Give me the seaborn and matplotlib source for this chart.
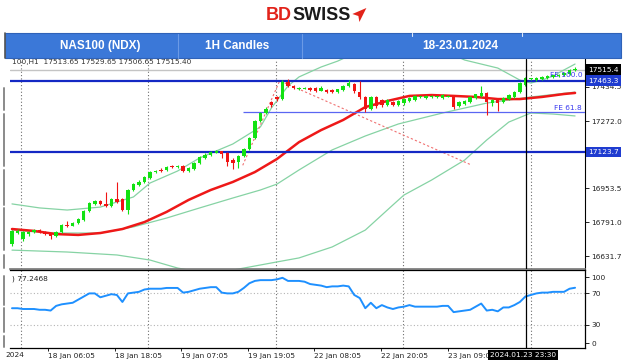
import numpy as np
import matplotlib
matplotlib.use('Agg')
import matplotlib.pyplot as plt
import seaborn as sns
from matplotlib.patches import Rectangle, Polygon
from matplotlib.lines import Line2D

# ---------------- data ----------------
opens = [16690, 16740, 16715, 16735, 16745, 16755, 16748, 16738, 16725, 16745,
         16780, 16776, 16790, 16805, 16845, 16878, 16893, 16880, 16870, 16903,
         16900, 16850, 16945, 16970, 16985, 17000, 17030, 17038, 17040, 17058,
         17052, 17058, 17035, 17045, 17075, 17098, 17110, 17122, 17128, 17118,
         17085, 17080, 17105, 17140, 17190, 17270, 17310, 17360, 17388, 17375,
         17455, 17440, 17425, 17426, 17430, 17428, 17415, 17420, 17420, 17410,
         17420, 17438, 17448, 17410, 17385, 17330, 17385, 17372, 17350, 17362,
         17348, 17355, 17365, 17372, 17385, 17380, 17386, 17385, 17380, 17388,
         17392, 17345, 17352, 17360, 17380, 17392, 17405, 17355, 17372, 17360,
         17375, 17385, 17408, 17445, 17470, 17466, 17472, 17476, 17480, 17484,
         17490, 17495, 17513.65]
highs = [16755, 16758, 16750, 16752, 16760, 16760, 16752, 16740, 16750, 16782,
         16800, 16795, 16812, 16850, 16887, 16898, 16897, 16935, 16908, 16983,
         16905, 16950, 16980, 16990, 17010, 17035, 17040, 17050, 17060, 17062,
         17062, 17062, 17052, 17080, 17105, 17118, 17130, 17133, 17132, 17125,
         17095, 17110, 17145, 17195, 17275, 17315, 17338, 17365, 17392, 17465,
         17470, 17445, 17432, 17433, 17434, 17432, 17440, 17424, 17424, 17426,
         17444, 17465, 17452, 17463, 17390, 17390, 17390, 17378, 17375, 17366,
         17370, 17380, 17386, 17396, 17392, 17397, 17393, 17392, 17400, 17395,
         17396, 17365, 17372, 17390, 17402, 17440, 17410, 17375, 17376, 17386,
         17400, 17414, 17455, 17480, 17478, 17480, 17484, 17488, 17492, 17496,
         17504, 17518, 17529.65]
lows = [16680, 16735, 16705, 16728, 16740, 16740, 16730, 16712, 16720, 16740,
        16770, 16772, 16786, 16800, 16840, 16874, 16875, 16865, 16865, 16885,
        16845, 16830, 16940, 16965, 16980, 16995, 17025, 17028, 17036, 17048,
        17048, 17030, 17030, 17040, 17070, 17094, 17105, 17118, 17095, 17060,
        17045, 17050, 17100, 17135, 17185, 17265, 17305, 17340, 17368, 17370,
        17435, 17424, 17420, 17422, 17416, 17410, 17412, 17406, 17406, 17406,
        17415, 17432, 17405, 17375, 17315, 17325, 17335, 17340, 17345, 17345,
        17343, 17350, 17360, 17367, 17380, 17376, 17382, 17381, 17376, 17384,
        17330, 17340, 17348, 17355, 17376, 17388, 17300, 17345, 17320, 17355,
        17370, 17380, 17404, 17440, 17465, 17460, 17468, 17472, 17476, 17480,
        17486, 17490, 17506.65]
closes = [16750, 16750, 16745, 16748, 16755, 16745, 16735, 16725, 16745, 16778,
          16775, 16790, 16808, 16845, 16882, 16893, 16880, 16870, 16903, 16890,
          16850, 16945, 16975, 16985, 17005, 17030, 17036, 17033, 17055, 17052,
          17058, 17035, 17048, 17075, 17100, 17112, 17125, 17128, 17115, 17080,
          17075, 17105, 17140, 17190, 17270, 17310, 17330, 17350, 17375, 17455,
          17440, 17428, 17428, 17429, 17420, 17415, 17428, 17410, 17410, 17422,
          17440, 17450, 17412, 17385, 17330, 17385, 17345, 17350, 17370, 17350,
          17365, 17375, 17382, 17392, 17387, 17392, 17389, 17388, 17395, 17391,
          17338, 17360, 17368, 17385, 17398, 17405, 17360, 17370, 17356, 17382,
          17395, 17410, 17450, 17475, 17474, 17476, 17480, 17484, 17488, 17492,
          17500, 17514, 17515.40]

ma_idx = [0, 4, 8, 12, 16, 20, 24, 28, 32, 36, 40, 44, 48, 52, 56, 60, 64, 68,
          72, 76, 80, 84, 88, 92, 96, 100, 102]
ma_val = [16760, 16751, 16736, 16732, 16741, 16760, 16793, 16841, 16898, 16945,
          16983, 17030, 17092, 17172, 17229, 17277, 17338, 17367, 17391, 17395,
          17391, 17386, 17376, 17376, 17386, 17400, 17405]

up_idx = [0, 5, 10, 16, 22, 25, 30, 34, 40, 45, 47, 50, 52, 56, 59, 61, 66, 72,
          78, 82, 88, 92, 94, 96, 98, 100, 102]
up_val = [16879, 16860, 16850, 16864, 16912, 16978, 17035, 17097, 17163, 17244,
          17334, 17438, 17481, 17528, 17556, 17580, 17609, 17632, 17609, 17561,
          17523, 17466, 17452, 17466, 17485, 17514, 17542]

mid_idx = [0, 7, 16, 22, 28, 34, 40, 45, 48, 52, 58, 64, 70, 78, 86, 94, 102]
mid_val = [16755, 16741, 16741, 16770, 16812, 16860, 16907, 16945, 16973, 17040,
           17135, 17201, 17258, 17310, 17357, 17386, 17409]

low_idx = [0, 10, 19, 25, 30, 34, 38, 42, 48, 52, 58, 64, 69, 71, 76, 82, 86, 90,
           94, 98, 102]
low_val = [16660, 16651, 16637, 16613, 16575, 16556, 16556, 16575, 16604, 16623,
           16675, 16755, 16874, 16921, 16992, 17087, 17182, 17267, 17310, 17305,
           17296]

fe_idx = [41.8, 48.5, 83.0]
fe_val = [17062, 17463, 17066]

rsi_vals = [51, 51, 50, 50, 50, 49, 49, 48, 54, 56,
            57, 58, 62, 66, 70, 70, 65, 67, 69, 68,
            59, 70, 71, 72, 75, 76, 76, 76, 77, 77,
            77, 71, 72, 74, 76, 77, 78, 78, 71, 70,
            70, 72, 77, 83, 86, 87, 87, 87, 88, 90,
            86, 86, 86, 85, 82, 81, 80, 78, 79, 79,
            80, 79, 68, 64, 51, 58, 51, 55, 52, 50,
            52, 53, 55, 53, 53, 53, 53, 53, 54, 54,
            46, 47, 48, 49, 53, 57, 48, 49, 47, 52,
            52, 55, 59, 66, 68, 70, 71, 71, 72, 72,
            72, 76, 77.2468]

price_ticks = [17434.5, 17272.0, 16953.5, 16791.0, 16631.7]
level_main = [17463.3, 17123.7]
level_fe618 = 17313.0
last_price = 17515.4
time_ticks = [6.52, 18.66, 30.6, 42.75, 54.7, 66.85, 79.0]
time_labels = ['18 Jan 06:05', '18 Jan 18:05', '19 Jan 07:05', '19 Jan 19:05',
               '22 Jan 08:05', '22 Jan 20:05', '23 Jan 09:05']
grid_x = [1.6, 24.6, 47.8, 70.9, 94.0]
cross_x = 93.1

# ---------------- style ----------------
sns.set_theme(style='white')
plt.rcParams['font.family'] = ['DejaVu Sans']

W, H = 624, 363
fig = plt.figure(figsize=(W / 100, H / 100), dpi=100)
fig.patch.set_facecolor('white')


def fx(px):
    return px / W


def fy(py):
    return 1 - py / H


GREEN = '#12e212'
RED = '#f01414'
BAND = '#86d3a4'
BLUE = '#1428c4'
FS = 5.3

ax = fig.add_axes([fx(10), fy(269), (585 - 10) / W, (269 - 59) / H])
rsi = fig.add_axes([fx(10), fy(348), (585 - 10) / W, (348 - 270) / H])
for a in (ax, rsi):
    a.set_facecolor('white')
    a.set_xlim(-0.36, 103.8)
    for g in grid_x:
        a.axvline(g, color='#6e6e6e', lw=0.8, ls=(0, (1, 2)), zorder=1)
    a.axvline(cross_x, color='black', lw=0.9, zorder=5)

ax.set_ylim(16570.5, 17565.9)
rsi.set_ylim(0, 100)

# price lines
ax.axhline(last_price, color='#c4c4c4', lw=1.0, zorder=1)
for lv in level_main:
    ax.axhline(lv, color=BLUE, lw=1.6, zorder=2.6)
ax.hlines(level_fe618, 41.8, 103.8, color='#5a66f2', lw=0.9, zorder=2.6)

# bands & MA
sns.lineplot(x=up_idx, y=up_val, ax=ax, color=BAND, lw=0.9, zorder=2)
sns.lineplot(x=mid_idx, y=mid_val, ax=ax, color=BAND, lw=0.9, zorder=2)
sns.lineplot(x=low_idx, y=low_val, ax=ax, color=BAND, lw=0.9, zorder=2)
sns.lineplot(x=ma_idx, y=ma_val, ax=ax, color='#ee1818', lw=1.8, zorder=2.5)
sns.lineplot(x=fe_idx, y=fe_val, ax=ax, color='#f07070', lw=0.8, sort=False,
             linestyle=(0, (2, 2)), zorder=2.4)

# candles
idx = np.arange(len(opens))
o = np.array(opens, float)
c = np.array(closes, float)
hh = np.array(highs, float)
ll = np.array(lows, float)
col = np.where(c >= o, GREEN, RED)
ax.vlines(idx, ll, hh, colors=col, lw=0.8, zorder=3)
ax.bar(idx, np.maximum(np.abs(c - o), 3.5), bottom=np.minimum(o, c), width=0.62,
       color=col, lw=0, zorder=4)

# FE labels
ax.text(97.5, 17490, 'FE 100.0', color='#3a3af0', fontsize=FS, va='center', zorder=6)
ax.text(98.2, 17334, 'FE 61.8', color='#3a3af0', fontsize=FS, va='center', zorder=6)

# axes styling main
ax.set_xticks([])
ax.yaxis.tick_right()
ax.set_yticks(price_ticks)
ax.set_yticklabels([f'{v:.1f}' for v in price_ticks])
ax.tick_params(axis='y', right=True, length=3, width=0.6, color='black',
               labelsize=FS, pad=1.5, labelcolor='#222222')
ax.set_xlabel('')
ax.set_ylabel('')
for s in ('left', 'top'):
    ax.spines[s].set_visible(False)
ax.spines['right'].set_color('black')
ax.spines['right'].set_linewidth(0.8)
ax.spines['bottom'].set_color('#777777')
ax.spines['bottom'].set_linewidth(1.2)

ytr = ax.get_yaxis_transform()
ax.text(1.006, last_price, '17515.4', transform=ytr, color='white', fontsize=FS,
        va='center', ha='left', zorder=7,
        bbox=dict(boxstyle='square,pad=0.3', fc='black', ec='none'))
for lv in level_main:
    ax.text(1.006, lv, f'{lv:.1f}', transform=ytr, color='white', fontsize=FS,
            va='center', ha='left', zorder=7,
            bbox=dict(boxstyle='square,pad=0.3', fc='#1f3cd0', ec='none'))

# RSI panel
sns.lineplot(x=idx, y=rsi_vals, ax=rsi, color='#1e90ff', lw=1.4, zorder=4)
for lv in (70, 30):
    rsi.axhline(lv, color='#b4b4b4', lw=0.8, ls=(0, (1, 2)), zorder=1)
rsi.yaxis.tick_right()
rsi.set_yticks([91, 70, 30, 6.4])
rsi.set_yticklabels(['100', '70', '30', '0'])
rsi.tick_params(axis='y', right=True, length=3, width=0.6, color='black',
                labelsize=FS, pad=1.5, labelcolor='#222222')
rsi.set_xticks(time_ticks)
rsi.set_xticklabels(time_labels, ha='left')
rsi.tick_params(axis='x', bottom=True, length=2.5, width=0.6, color='black',
                labelsize=FS, pad=1.0, labelcolor='#222222')
rsi.set_xlabel('')
rsi.set_ylabel('')
rsi.spines['left'].set_visible(False)
for s in ('top', 'right', 'bottom'):
    rsi.spines[s].set_color('black')
    rsi.spines[s].set_linewidth(0.9)

fig.text(fx(12), fy(279), ') 77.2468', fontsize=FS, color='#222222', va='center')
fig.text(fx(5), fy(355), '2024', fontsize=FS, color='#222222', va='center', ha='left')
fig.text(fx(490), fy(355), '2024.01.23 23:30', fontsize=FS, color='white', va='center',
         ha='left', zorder=10,
         bbox=dict(boxstyle='square,pad=0.3', fc='black', ec='none'))
fig.text(fx(12), fy(62), '100,H1  17513.65 17529.65 17506.65 17515.40', fontsize=FS,
         color='#333333', va='center')

# left edge artefacts
for y0, y1 in [(88, 110), (114, 166), (170, 205), (208, 250), (255, 268),
               (276, 305), (308, 332), (336, 347)]:
    fig.add_artist(Line2D([fx(3.5), fx(3.5)], [fy(y0), fy(y1)], color='#8a8a8a', lw=1.4))

# header bar
fig.add_artist(Rectangle((fx(5), fy(58)), (621 - 5) / W, 25 / H, transform=fig.transFigure,
                         fc='#3b78d8', ec='#2f62b8', lw=0.8, zorder=8))
for xd in (178, 302):
    fig.add_artist(Line2D([fx(xd), fx(xd)], [fy(34), fy(58)], color='#6b9ae6', lw=0.8, zorder=9))
for xd in (412, 522):
    fig.add_artist(Line2D([fx(xd), fx(xd)], [fy(33), fy(36)], color='#dfe8f8', lw=0.8, zorder=9))
fig.add_artist(Line2D([fx(5), fx(5)], [fy(33), fy(58)], color='#555555', lw=1.2, zorder=9))
hdr = dict(color='white', fontsize=8.5, fontweight='bold', family='Liberation Sans',
           va='center', ha='center', zorder=10)
fig.text(fx(100), fy(46), 'NAS100 (NDX)', **hdr)
fig.text(fx(237), fy(46), '1H Candles', **hdr)
fig.text(fx(460), fy(46), '18-23.01.2024', **hdr)

# logo
rend = fig.canvas.get_renderer()
t1 = fig.text(fx(266), fy(15.5), 'BD', color='#e2231a', fontsize=13, fontweight='bold',
              family='Liberation Sans', ha='left', va='center')
bb = t1.get_window_extent(renderer=rend)
t2 = fig.text(bb.x1 / W, fy(15.5), 'SWISS', color='#1a1a1a', fontsize=13,
              fontweight='bold', family='Liberation Sans', ha='left', va='center')
bb2 = t2.get_window_extent(renderer=rend)
xe = bb2.x1
fig.add_artist(Polygon([(fx(xe + 2), fy(14)), (fx(xe + 16), fy(8)), (fx(xe + 9), fy(22)),
                        (fx(xe + 8), fy(16))], closed=True, transform=fig.transFigure,
                       fc='#e2231a', ec='none'))

fig.savefig('out.png', dpi=100, facecolor='white')
